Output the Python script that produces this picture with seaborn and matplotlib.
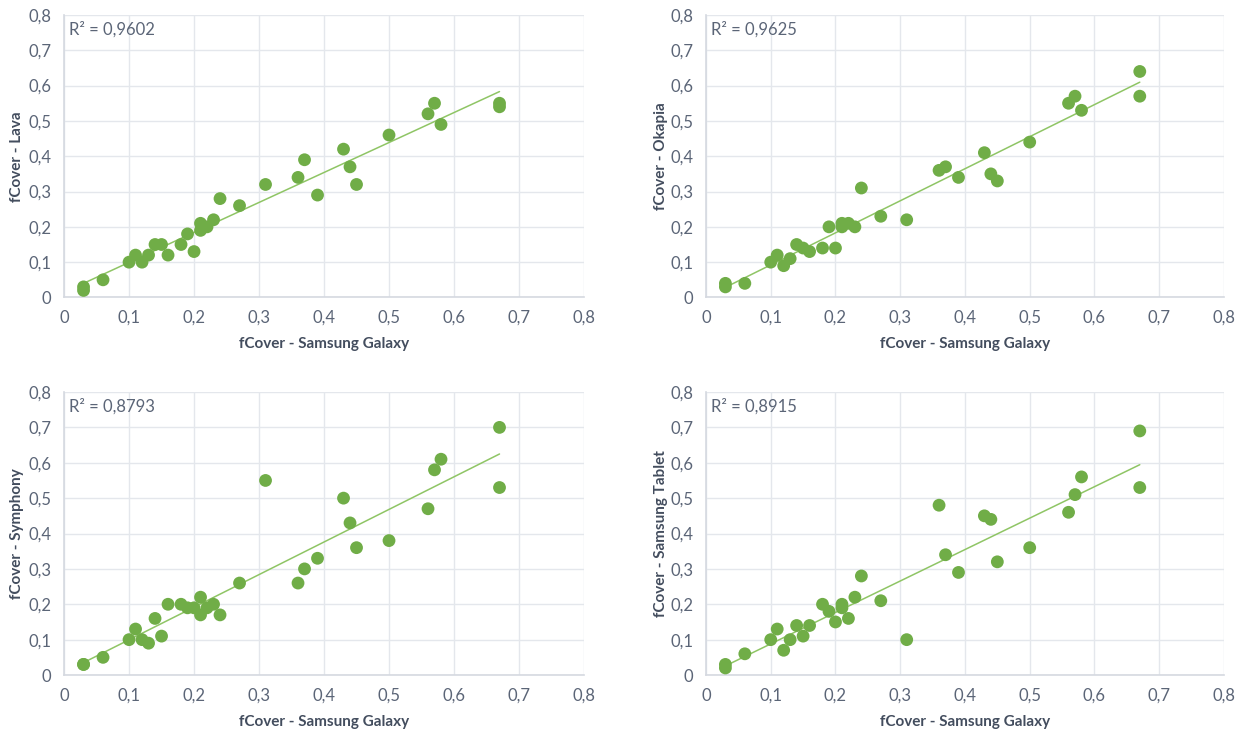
import numpy as np
import pandas as pd
import matplotlib.pyplot as plt
from matplotlib.ticker import FuncFormatter, MultipleLocator
import seaborn as sns

# fCover from the reference device (shared x axis for all four panels)
x_galaxy = [0.03, 0.03, 0.06, 0.10, 0.11, 0.12, 0.13, 0.14, 0.15, 0.16, 0.18,
            0.19, 0.20, 0.21, 0.21, 0.22, 0.23, 0.24, 0.27, 0.31, 0.36, 0.37,
            0.39, 0.43, 0.44, 0.45, 0.50, 0.56, 0.57, 0.58, 0.67, 0.67]

y_lava = [0.03, 0.02, 0.05, 0.10, 0.12, 0.10, 0.12, 0.15, 0.15, 0.12, 0.15,
          0.18, 0.13, 0.21, 0.19, 0.20, 0.22, 0.28, 0.26, 0.32, 0.34, 0.39,
          0.29, 0.42, 0.37, 0.32, 0.46, 0.52, 0.55, 0.49, 0.55, 0.54]

y_okapia = [0.04, 0.03, 0.04, 0.10, 0.12, 0.09, 0.11, 0.15, 0.14, 0.13, 0.14,
            0.20, 0.14, 0.21, 0.20, 0.21, 0.20, 0.31, 0.23, 0.22, 0.36, 0.37,
            0.34, 0.41, 0.35, 0.33, 0.44, 0.55, 0.57, 0.53, 0.64, 0.57]

y_symphony = [0.03, 0.03, 0.05, 0.10, 0.13, 0.10, 0.09, 0.16, 0.11, 0.20, 0.20,
              0.19, 0.19, 0.22, 0.17, 0.19, 0.20, 0.17, 0.26, 0.55, 0.26, 0.30,
              0.33, 0.50, 0.43, 0.36, 0.38, 0.47, 0.58, 0.61, 0.70, 0.53]

y_tablet = [0.03, 0.02, 0.06, 0.10, 0.13, 0.07, 0.10, 0.14, 0.11, 0.14, 0.20,
            0.18, 0.15, 0.20, 0.19, 0.16, 0.22, 0.28, 0.21, 0.10, 0.48, 0.34,
            0.29, 0.45, 0.44, 0.32, 0.36, 0.46, 0.51, 0.56, 0.69, 0.53]

panel_names = ["Lava", "Okapia", "Symphony", "Samsung Tablet"]
r2_labels = ["0,9602", "0,9625", "0,8793", "0,8915"]

MARKER = "#70AD47"
TREND = "#8FC565"
TICK_COL = "#5B6577"
LABEL_COL = "#434D5E"
GRID_COL = "#E4E7EC"
SPINE_COL = "#D5D9E0"

sns.set_style("white")
plt.rcParams["font.family"] = ["Lato", "DejaVu Sans"]

df = pd.DataFrame({"galaxy": x_galaxy, "Lava": y_lava, "Okapia": y_okapia,
                   "Symphony": y_symphony, "Samsung Tablet": y_tablet})

fig = plt.figure(figsize=(12.46, 7.30), dpi=100)
rects = [
    [0.0514, 0.5925, 0.4173, 0.3870],
    [0.5666, 0.5925, 0.4157, 0.3870],
    [0.0514, 0.0753, 0.4173, 0.3877],
    [0.5666, 0.0753, 0.4157, 0.3877],
]
ylabel_pads = [3, 2, 3, 2]

comma = FuncFormatter(lambda v, _: "0" if abs(v) < 1e-9 else f"{v:.1f}".replace(".", ","))

for rect, name, r2, lp in zip(rects, panel_names, r2_labels, ylabel_pads):
    ax = fig.add_axes(rect)
    sns.regplot(data=df, x="galaxy", y=name, ax=ax, scatter=False, ci=None,
                truncate=True, line_kws=dict(color=TREND, lw=1.1, zorder=2))
    sns.scatterplot(data=df, x="galaxy", y=name, ax=ax, color=MARKER, s=85,
                    edgecolor="none", zorder=3)

    ax.set_xlim(0, 0.8)
    ax.set_ylim(0, 0.8)
    ax.xaxis.set_major_locator(MultipleLocator(0.1))
    ax.yaxis.set_major_locator(MultipleLocator(0.1))
    ax.xaxis.set_major_formatter(comma)
    ax.yaxis.set_major_formatter(comma)
    ax.grid(True, color=GRID_COL, lw=1.0, zorder=0)
    ax.set_axisbelow(True)
    for side in ["top", "right"]:
        ax.spines[side].set_visible(False)
    for side in ["left", "bottom"]:
        ax.spines[side].set_color(SPINE_COL)
        ax.spines[side].set_linewidth(1.2)
    ax.tick_params(axis="both", length=0, labelsize=12, colors=TICK_COL, pad=9)

    ax.set_xlabel("fCover - Samsung Galaxy", fontsize=11, fontweight="bold",
                  color=LABEL_COL, labelpad=8)
    ax.set_ylabel(f"fCover - {name}", fontsize=11, fontweight="bold",
                  color=LABEL_COL, labelpad=lp)
    ax.text(0.01, 0.95, f"R² = {r2}", transform=ax.transAxes, fontsize=12,
            color=TICK_COL, ha="left", va="center")

fig.savefig("out.png", dpi=100, facecolor="white")
